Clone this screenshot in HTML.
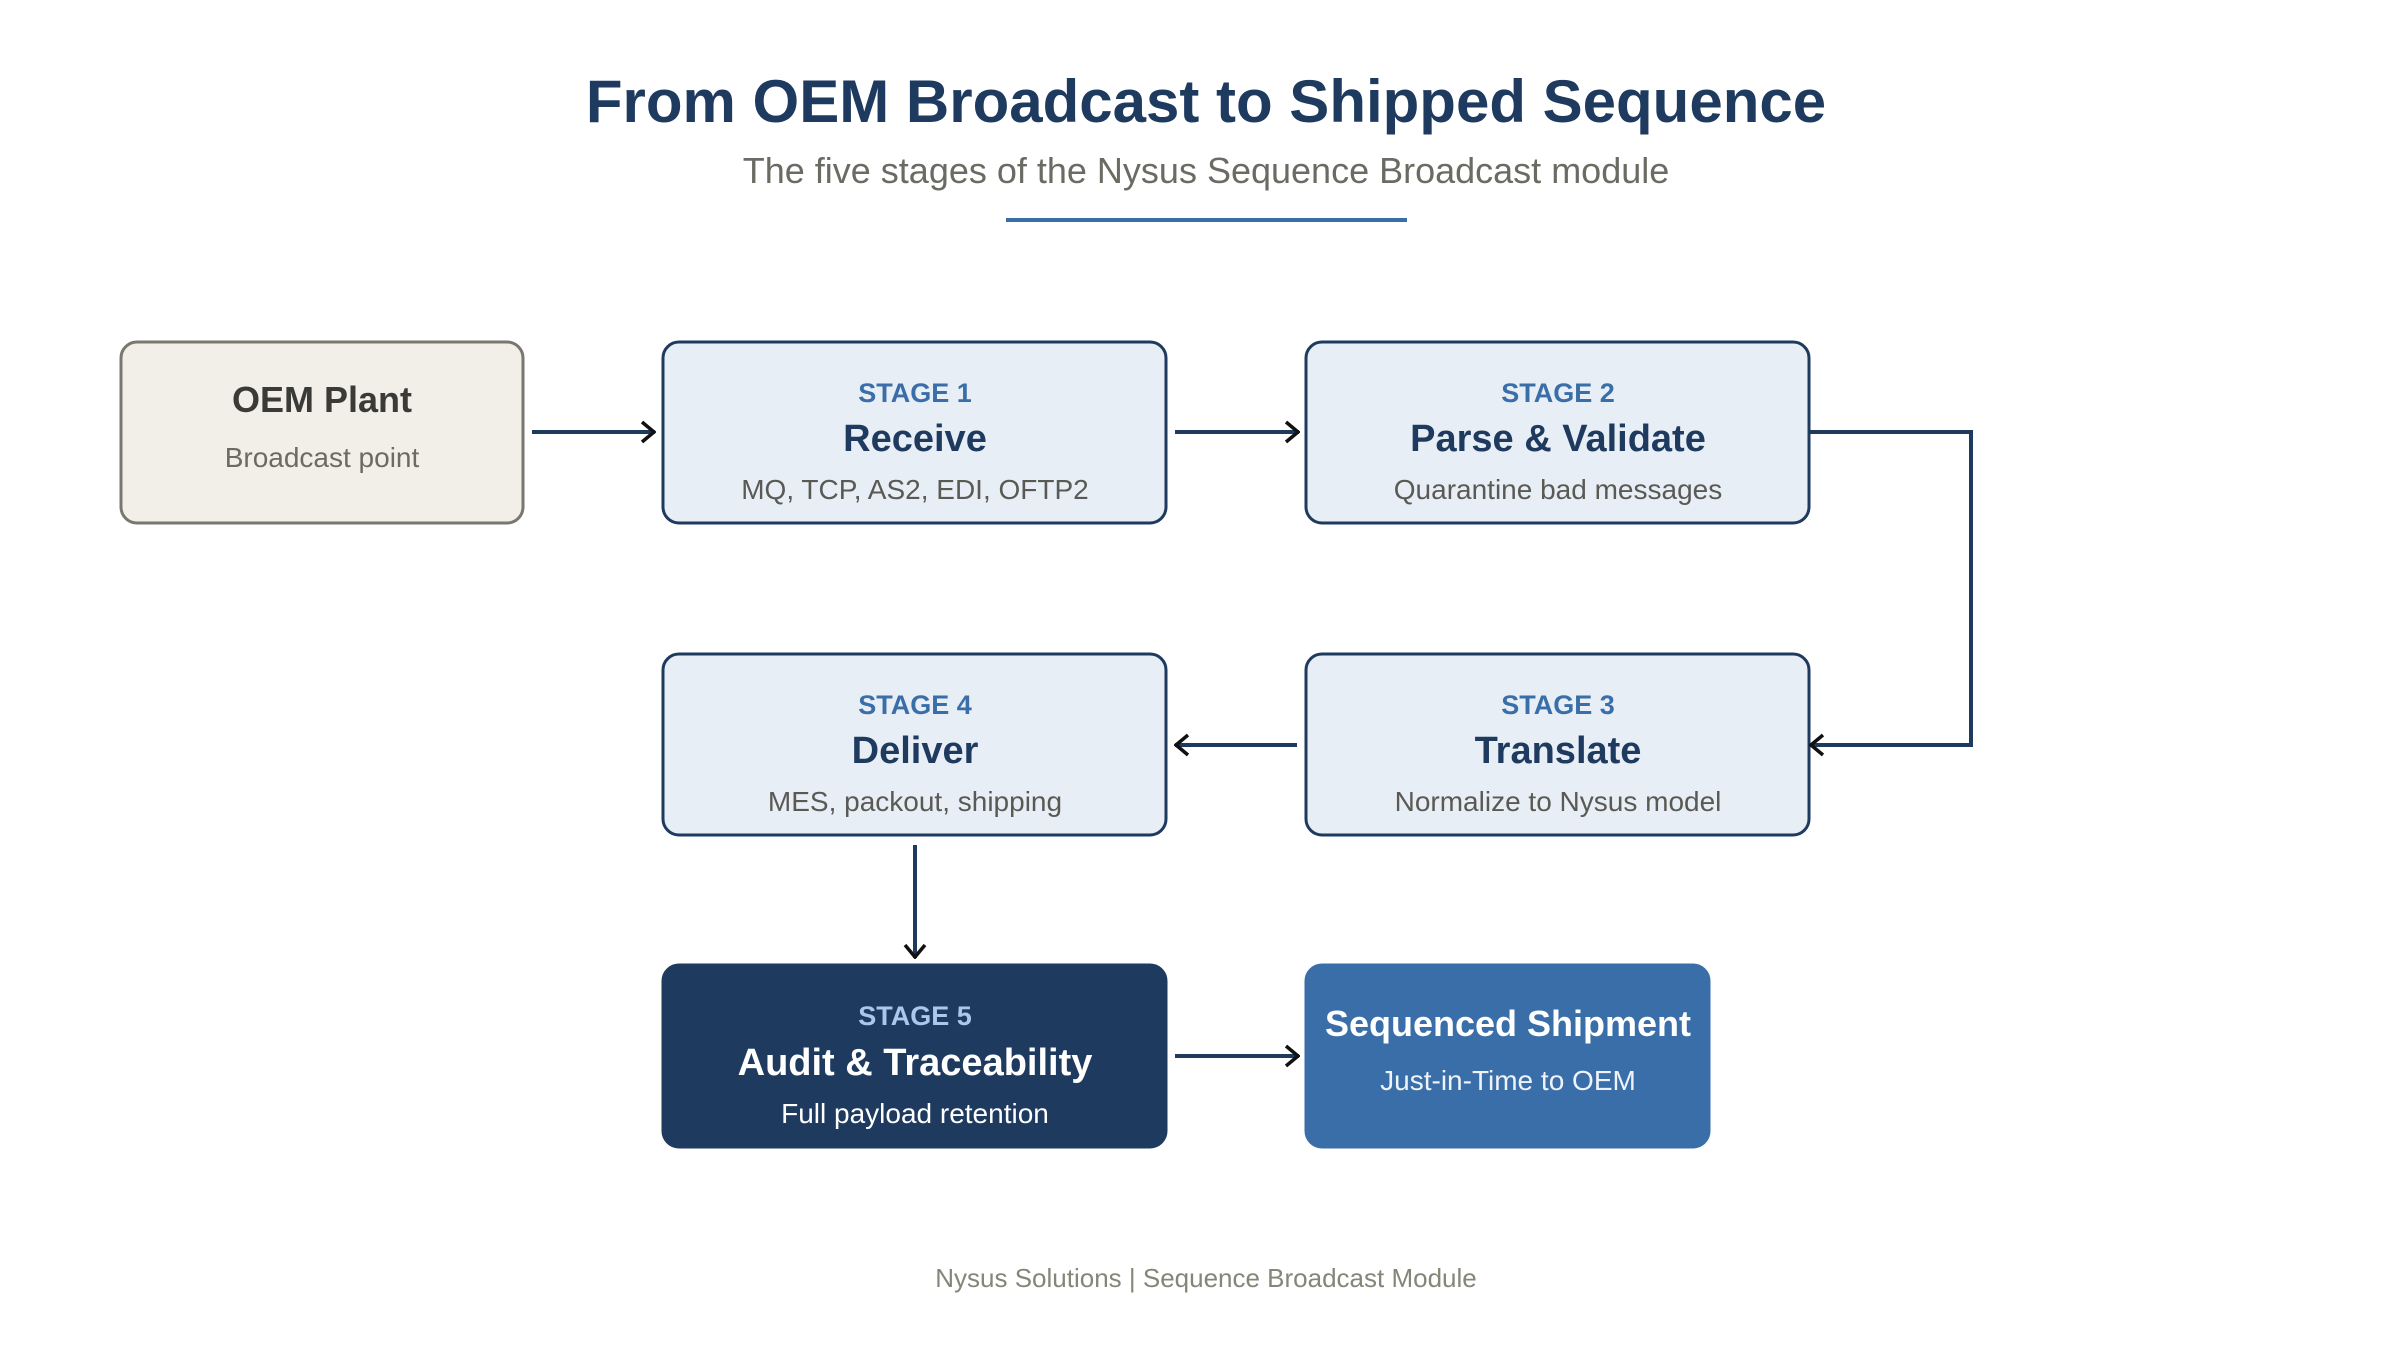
<!DOCTYPE html>
<html><head><meta charset="utf-8"><style>
html,body{margin:0;padding:0;background:#fff}
svg{display:block}
text{font-family:"Liberation Sans",sans-serif;text-anchor:middle}
</style></head><body>
<svg width="2400" height="1360" viewBox="0 0 2400 1360" xmlns="http://www.w3.org/2000/svg">
<defs>
<marker id="ah" viewBox="0 0 16 24" refX="15" refY="12" markerWidth="16" markerHeight="24" markerUnits="userSpaceOnUse" orient="auto">
<path d="M2,2 L14,12 L2,22" fill="none" stroke="#111" stroke-width="3.5"/>
</marker>
</defs>
<rect width="2400" height="1360" fill="#fff"/>
<text x="1206" y="122" font-size="60" font-weight="bold" fill="#1f3a5f">From OEM Broadcast to Shipped Sequence</text>
<text x="1206" y="183" font-size="36" fill="#6b6b63">The five stages of the Nysus Sequence Broadcast module</text>
<rect x="1006" y="218" width="401" height="4" fill="#3a6ea8"/>

<g stroke-width="3">
<rect x="121" y="342" width="402" height="181" rx="16" fill="#f2efe8" stroke="#7a7770"/>
<rect x="663" y="342" width="503" height="181" rx="16" fill="#e8eef6" stroke="#1f3a5f"/>
<rect x="1306" y="342" width="503" height="181" rx="16" fill="#e8eef6" stroke="#1f3a5f"/>
<rect x="663" y="654" width="503" height="181" rx="16" fill="#e8eef6" stroke="#1f3a5f"/>
<rect x="1306" y="654" width="503" height="181" rx="16" fill="#e8eef6" stroke="#1f3a5f"/>
<rect x="663" y="965" width="503" height="182" rx="16" fill="#1f3a5f" stroke="#1f3a5f"/>
<rect x="1306" y="965" width="403" height="182" rx="16" fill="#3a6ea8" stroke="#3a6ea8"/>
</g>

<g stroke="#1f3a5f" stroke-width="4" fill="none" marker-end="url(#ah)">
<line x1="532" y1="432" x2="655" y2="432"/>
<line x1="1175" y1="432" x2="1299" y2="432"/>
<polyline points="1809,432 1971,432 1971,745 1810,745"/>
<line x1="1297" y1="745" x2="1175" y2="745"/>
<line x1="915" y1="845" x2="915" y2="958"/>
<line x1="1175" y1="1056" x2="1299" y2="1056"/>
</g>

<text x="322" y="412" font-size="36" font-weight="bold" fill="#3a3a36">OEM Plant</text>
<text x="322" y="467" font-size="28" fill="#6b6b63">Broadcast point</text>

<text x="915" y="402" font-size="27" font-weight="bold" fill="#3a6ea8">STAGE 1</text>
<text x="915" y="451" font-size="38" font-weight="bold" fill="#1f3a5f">Receive</text>
<text x="915" y="499" font-size="28" fill="#5a5a55">MQ, TCP, AS2, EDI, OFTP2</text>

<text x="1558" y="402" font-size="27" font-weight="bold" fill="#3a6ea8">STAGE 2</text>
<text x="1558" y="451" font-size="38" font-weight="bold" fill="#1f3a5f">Parse &amp; Validate</text>
<text x="1558" y="499" font-size="28" fill="#5a5a55">Quarantine bad messages</text>

<text x="915" y="714" font-size="27" font-weight="bold" fill="#3a6ea8">STAGE 4</text>
<text x="915" y="763" font-size="38" font-weight="bold" fill="#1f3a5f">Deliver</text>
<text x="915" y="811" font-size="28" fill="#5a5a55">MES, packout, shipping</text>

<text x="1558" y="714" font-size="27" font-weight="bold" fill="#3a6ea8">STAGE 3</text>
<text x="1558" y="763" font-size="38" font-weight="bold" fill="#1f3a5f">Translate</text>
<text x="1558" y="811" font-size="28" fill="#5a5a55">Normalize to Nysus model</text>

<text x="915" y="1025" font-size="27" font-weight="bold" fill="#a9c8ec">STAGE 5</text>
<text x="915" y="1075" font-size="38" font-weight="bold" fill="#ffffff">Audit &amp; Traceability</text>
<text x="915" y="1123" font-size="28" fill="#ffffff">Full payload retention</text>

<text x="1508" y="1036" font-size="36" font-weight="bold" fill="#ffffff">Sequenced Shipment</text>
<text x="1508" y="1090" font-size="28" fill="#eef3fa">Just-in-Time to OEM</text>

<text x="1206" y="1287" font-size="26" fill="#858578">Nysus Solutions | Sequence Broadcast Module</text>
</svg>
</body></html>
